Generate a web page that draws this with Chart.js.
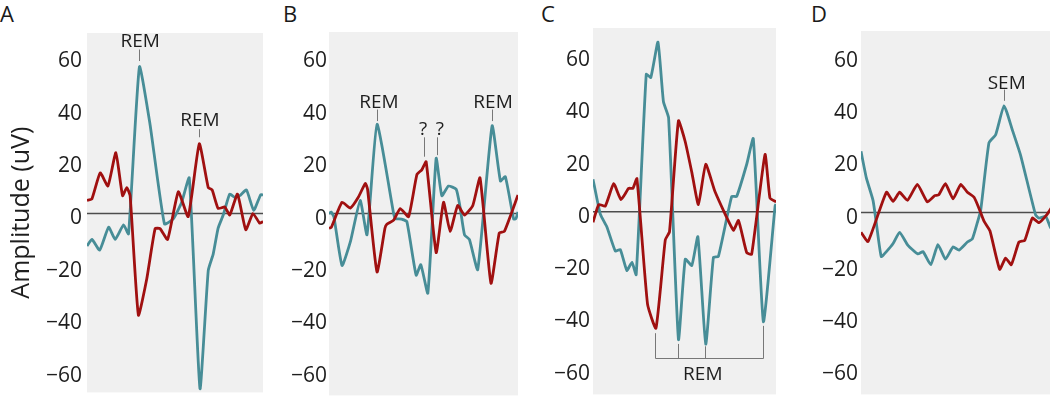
<!DOCTYPE html>
<html>
<head>
<meta charset="utf-8">
<script src="https://cdn.jsdelivr.net/npm/chart.js@4.4.1/dist/chart.umd.min.js"></script>
<style>
  html, body { margin: 0; padding: 0; background: #fff; overflow: hidden; }
  body { position: relative; width: 1050px; height: 410px; font-family: "Open Sans", sans-serif; }
  canvas { position: absolute; top: 0; }
  .tag { position: absolute; top: 2px; font-size: 22px; line-height: 1; color: #1a1a1a; }
</style>
</head>
<body>
<div class="tag" style="left:0px">A</div>
<div class="tag" style="left:283px">B</div>
<div class="tag" style="left:541px">C</div>
<div class="tag" style="left:811px">D</div>
<canvas id="panelA" width="270" height="410" style="left:0px"></canvas>
<canvas id="panelB" width="255" height="410" style="left:270px"></canvas>
<canvas id="panelC" width="255" height="410" style="left:530px"></canvas>
<canvas id="panelD" width="265" height="410" style="left:795px"></canvas>
<script>
// y ticks shared by all four panels
const yTicks = [-60, -40, -20, 0, 20, 40, 60];

// [time (0-100 across the panel), amplitude uV]
const tealA = [[0,-12.4],[2.8,-9.9],[7.2,-14],[12.3,-5.2],[16,-9.9],[20.8,-4.3],[23.6,-7.8],[29.8,56],[35.8,34.1],[44,-4],[49,-2.1],[53.8,4.3],[58.1,13.6],[64.2,-66.9],[68.9,-21.7],[71.7,-15.5],[74.5,-5.6],[77.4,-0.6],[81.1,7.4],[84,6.2],[86.8,6.8],[90.6,9],[94.7,1.2],[98.7,7.2],[100,7.1]];
const redA = [[0,5],[2.8,5.6],[7.5,15.5],[11.9,10.5],[16.4,23.2],[20.2,6.8],[22.6,9.9],[24.5,6.8],[29.2,-38.8],[34,-24.8],[38.7,-5.8],[41.5,-5.8],[45.8,-9.9],[51.9,8.3],[57.5,-1.2],[63.8,26.6],[68.9,9.9],[71.1,9],[74.5,1.9],[78.3,2.5],[81.1,-0.6],[85.5,7.4],[90.2,-6.2],[94.3,0],[98.1,-3.7],[100,-3.1]];

const tealB = [[0,0],[1.1,0.6],[2.6,-1.2],[6.9,-19.8],[11.4,-10.5],[16.5,5],[20.1,-8.1],[25.4,34.1],[34.2,0],[35,-1.9],[38.4,-2.1],[41.2,-3.1],[46.1,-23.5],[48.6,-19.5],[52.3,-30.4],[56.7,21.1],[59.7,6.8],[63.2,10.5],[67.3,9.3],[69.2,3.1],[71.7,-8.1],[74.3,-9.9],[78.7,-21.4],[86.3,33.5],[90.7,12.4],[93.3,14.1],[97.7,-2.1],[98.9,-1.9],[100,0.6]];
const redB = [[0,-5.6],[1.2,-5.3],[6.9,4.3],[11.3,2.1],[15.5,6.2],[19.2,11.5],[20.4,9.3],[25.4,-22.3],[29.6,-5.6],[30.6,-4.1],[34.2,-2.5],[37.7,1.9],[42.1,-1.2],[46.5,14.9],[49.1,16.7],[51.4,19.8],[56.7,-14.9],[60.6,4.3],[64.1,-6.8],[68.1,3.1],[71.7,-0.6],[76.1,3.1],[79.9,13.6],[85.7,-26.6],[90.1,-7.4],[92.8,-6.8],[100,7.1]];

const tealC = [[0,12.5],[4,-0.9],[7.6,-5.8],[12.2,-15],[14.9,-14.4],[18.5,-22.4],[21.3,-19.3],[23.6,-24],[29.1,52.6],[31.6,51.4],[35.5,64.9],[38.5,42.1],[41.3,36],[46.7,-48.8],[50.4,-18.1],[54,-20.5],[57.3,-9.5],[61.6,-50.6],[65.8,-17.4],[68.5,-17.1],[75.8,5.9],[78.5,5.9],[84,18.2],[87.6,28],[93.1,-42],[99.5,2.2],[100,3]];
const redC = [[0,-4],[3.1,2.8],[6.7,2.2],[11.3,10.8],[15.3,4.7],[19.5,9],[21.8,9],[24,12.7],[29.8,-35.3],[34.4,-44.5],[39.5,-10.7],[41.8,-7.6],[46.7,34.8],[50.4,26.8],[54,15.1],[57.6,2.8],[61.6,18.2],[66.7,7.7],[76.7,-7],[79.5,-3.3],[84,-15.6],[86.7,-16.2],[94,21.9],[96.7,5.3],[99.5,4],[100,4]];

const tealD = [[0,23.5],[2.8,13.3],[6.3,4.7],[8,-3.9],[10.6,-16.9],[13.3,-15],[16.8,-11.9],[20.2,-7.6],[24.6,-12.6],[29.8,-15.9],[32.5,-15],[36.5,-20],[40.3,-12.3],[44.2,-17.9],[48.2,-13.2],[51.3,-14.4],[55.7,-11.3],[58.3,-10.1],[60.9,-3.9],[62.7,1],[67,26.8],[70.5,29.9],[74.9,41],[79.2,31.8],[83.6,21.9],[91.4,-0.9],[93.2,-2.1],[96.7,-1.5],[99,-5.4],[100,-6.6]];
const redD = [[0,-7.6],[3.7,-11.1],[13.3,7.8],[16.8,4.3],[20.2,7.8],[24.3,4.7],[29.5,10.8],[34.7,4.1],[38.6,6.5],[40.7,6.8],[44.2,11.1],[48.2,5.3],[52.2,10.8],[55.7,7.8],[59.2,5.9],[61.8,1.6],[64.4,-3.3],[67.5,-7],[72.6,-21.8],[75.7,-17.5],[78.7,-20],[82.7,-11.3],[85.7,-10.7],[89.7,-2.1],[93.2,-3.9],[97.2,-0.9],[100,2.2]];

// event labels: text at (x, y), marker line at tickX from y1 to y2
const notesA = [
  { text: 'REM', x: 30.2, y: 65.7, tickX: 29.8, y1: 62.6, y2: 58.2 },
  { text: 'REM', x: 64.2, y: 35.3, tickX: 63.8, y1: 32.2, y2: 29.1 }
];
const notesB = [
  { text: 'REM', x: 26.4, y: 42.5, tickX: 25.4, y1: 39.7, y2: 35.3 },
  { text: '?', x: 49.8, y: 32.2, tickX: 50.4, y1: 29.1, y2: 21.7 },
  { text: '?', x: 58.6, y: 32.2, tickX: 56.9, y1: 29.1, y2: 22.3 },
  { text: 'REM', x: 86.8, y: 42.5, tickX: 86.3, y1: 39.7, y2: 35.3 }
];
const notesD = [
  { text: 'SEM', x: 76.3, y: 49.6, tickX: 75, y1: 47.2, y2: 42.9 }
];
// bracket under the four troughs in panel C
const bracketX = [34, 46.7, 61.3, 93.1];
const bracketFrom = [-46.4, -50.5, -51.4, -43.6];
const bracketBase = -55.9;
const bracketLabel = { text: 'REM', x: 60, y: -62.4 };

const TEAL = '#478d97';
const RED = '#a01010';
const INK = '#1e1e1e';

const panelBg = {
  id: 'panelBg',
  beforeDraw(chart) {
    const { ctx, chartArea: a } = chart;
    ctx.save();
    ctx.fillStyle = '#f0f0f0';
    ctx.fillRect(a.left, a.top, a.right - a.left, a.bottom - a.top);
    ctx.restore();
  },
  beforeDatasetsDraw(chart) {
    const { ctx, chartArea: a, scales: { y } } = chart;
    const y0 = y.getPixelForValue(0);
    ctx.save();
    ctx.strokeStyle = '#4d4d4d';
    ctx.lineWidth = 1.5;
    ctx.beginPath();
    ctx.moveTo(a.left, y0);
    ctx.lineTo(a.right, y0);
    ctx.stroke();
    ctx.restore();
  }
};

const notesPlugin = {
  id: 'notes',
  afterDatasetsDraw(chart, args, opts) {
    const { ctx, scales: { x, y } } = chart;
    ctx.save();
    ctx.strokeStyle = '#777';
    ctx.lineWidth = 1;
    ctx.fillStyle = INK;
    ctx.font = '19px "Open Sans"';
    ctx.textAlign = 'center';
    ctx.textBaseline = 'middle';
    (opts.items || []).forEach(n => {
      const tx = Math.round(x.getPixelForValue(n.tickX)) + 0.5;
      ctx.beginPath();
      ctx.moveTo(tx, y.getPixelForValue(n.y1));
      ctx.lineTo(tx, y.getPixelForValue(n.y2));
      ctx.stroke();
      ctx.fillText(n.text, x.getPixelForValue(n.x), y.getPixelForValue(n.y));
    });
    if (opts.bracket) {
      const base = Math.round(y.getPixelForValue(bracketBase)) + 0.5;
      ctx.beginPath();
      bracketX.forEach((bx, i) => {
        const px = Math.round(x.getPixelForValue(bx)) + 0.5;
        ctx.moveTo(px, y.getPixelForValue(bracketFrom[i]));
        ctx.lineTo(px, base);
      });
      ctx.moveTo(Math.round(x.getPixelForValue(bracketX[0])) + 0.5, base);
      ctx.lineTo(Math.round(x.getPixelForValue(bracketX[bracketX.length - 1])) + 0.5, base);
      ctx.stroke();
      ctx.fillText(bracketLabel.text, x.getPixelForValue(bracketLabel.x), y.getPixelForValue(bracketLabel.y));
    }
    ctx.restore();
  }
};

function series(points, color) {
  return {
    data: points.map(p => ({ x: p[0], y: p[1] })),
    borderColor: color,
    borderWidth: 2.8,
    pointRadius: 0,
    tension: 0.15,
    fill: false
  };
}

function makePanel(id, teal, red, cfg) {
  const canvas = document.getElementById(id);
  return new Chart(canvas.getContext('2d'), {
    type: 'line',
    data: { datasets: [series(red, RED), series(teal, TEAL)] },
    options: {
      responsive: false,
      animation: false,
      layout: { padding: cfg.pad },
      plugins: {
        legend: { display: false },
        tooltip: { enabled: false },
        notes: { items: cfg.notes || [], bracket: !!cfg.bracket }
      },
      scales: {
        x: { type: 'linear', min: 0, max: 100, display: false },
        y: {
          min: cfg.yMin,
          max: cfg.yMax,
          afterFit: s => { s.width = cfg.axisW; },
          afterBuildTicks: s => { s.ticks = yTicks.map(v => ({ value: v })); },
          grid: { display: false, drawTicks: false },
          border: { display: false },
          ticks: {
            padding: cfg.tickPad,
            labelOffset: 5,
            color: INK,
            font: { family: 'Open Sans', size: 21 },
            callback: v => v < 0 ? '\u2212' + Math.abs(v) : String(v)
          },
          title: cfg.title
            ? { display: true, text: cfg.title, color: INK, font: { family: 'Open Sans', size: 25 }, padding: { top: 7, bottom: 0 } }
            : { display: false }
        }
      }
    },
    plugins: [panelBg, notesPlugin]
  });
}

makePanel('panelA', tealA, redA, {
  pad: { left: 0, right: 7, top: 33, bottom: 8 }, axisW: 87, tickPad: 5,
  yMin: -68.3, yMax: 68.9, title: 'Amplitude (uV)', notes: notesA
});
makePanel('panelB', tealB, redB, {
  pad: { left: 0, right: 7, top: 32, bottom: 5 }, axisW: 59, tickPad: 2,
  yMin: -69.4, yMax: 69.3, notes: notesB
});
makePanel('panelC', tealC, redC, {
  pad: { left: 0, right: 9, top: 28, bottom: 2 }, axisW: 63, tickPad: 3,
  yMin: -69.8, yMax: 70.3, bracket: true
});
makePanel('panelD', tealD, redD, {
  pad: { left: 0, right: 8, top: 31, bottom: 2 }, axisW: 66, tickPad: 3,
  yMin: -69.8, yMax: 69.7, notes: notesD
});
</script>
</body>
</html>
